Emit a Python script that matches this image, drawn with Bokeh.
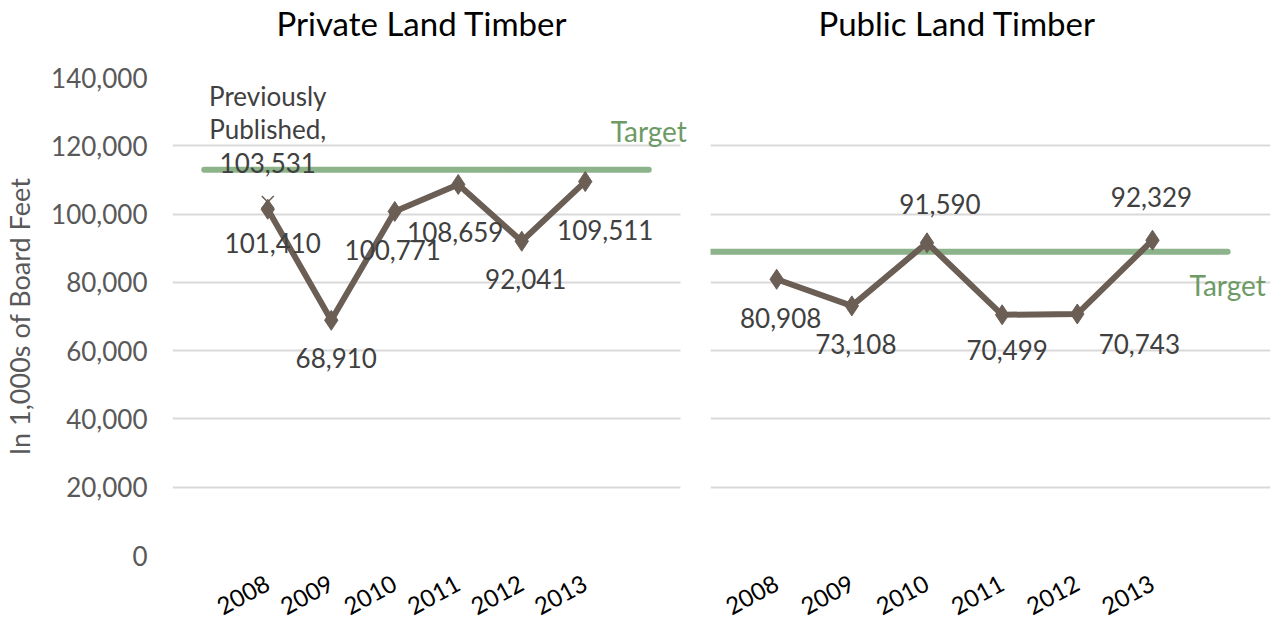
from bokeh.plotting import figure
from bokeh.models import ColumnDataSource, FixedTicker, Range1d, Label, NumeralTickFormatter, Title
from bokeh.layouts import row
from bokeh.embed import file_html
from bokeh.resources import INLINE
from bokeh.core.properties import value

# ---------------- data ----------------
years = ["2008", "2009", "2010", "2011", "2012", "2013"]
private_values = [101410, 68910, 100771, 108659, 92041, 109511]
public_values = [80908, 73108, 91590, 70499, 70743, 92329]
private_target = 113000
public_target = 89000
previously_published = 103531
previously_label = "Previously\nPublished,\n103,531"
y_ticks = [0, 20000, 40000, 60000, 80000, 100000, 120000, 140000]

# ---------------- styles ----------------
FONT = "Lato"
LINE_COLOR = "#6B5E55"
TARGET_COLOR = "#8DB38A"
TARGET_TEXT = "#6E9A66"
GRID_COLOR = "#D9D9D9"
TICK_TEXT = "#595959"
LABEL_TEXT = "#404040"

# data-label screen offsets (pixels; dy positive = down)
private_dx = [5, 5, -2, -3, 4, 20]
private_dy = [34, 38, 39, 47, 38, 48]
public_dx = [4, 4, 13, 5, 62, -1]
public_dy = [39, 38, -39, 35, 30, -43]


def make_panel(title, values, target, grid_start, grid_end, x_end, width, mb_left, mb_right,
               title_offset, show_y):
    xs = list(range(len(years)))
    p = figure(width=width, height=626, output_backend="svg", toolbar_location=None,
               x_range=Range1d(grid_start, x_end), y_range=Range1d(0, 140000),
               min_border_left=mb_left, min_border_right=mb_right,
               min_border_top=77, min_border_bottom=10)
    p.outline_line_color = None
    p.background_fill_color = "white"
    p.border_fill_color = "white"

    # spacer between frame and title, then the title itself (outermost)
    p.add_layout(Title(text=" ", text_font_size="10px", standoff=19), "above")
    p.add_layout(Title(text=title, text_font=FONT, text_font_size="33px",
                       text_font_style="normal", text_color="black", align="left",
                       offset=title_offset, vertical_align="top", standoff=2), "above")

    # x axis
    p.xaxis.ticker = FixedTicker(ticks=xs)
    p.xaxis.major_label_overrides = {i: y for i, y in enumerate(years)}
    p.xaxis.major_label_orientation = 0.5
    p.xaxis.major_label_text_font = FONT
    p.xaxis.major_label_text_font_size = "24px"
    p.xaxis.major_label_text_color = "black"
    p.xaxis.axis_line_color = None
    p.xaxis.major_tick_line_color = None
    p.xaxis.minor_tick_line_color = None
    p.xaxis.major_label_standoff = 20
    p.xgrid.grid_line_color = None

    # y axis / grid
    p.yaxis.ticker = FixedTicker(ticks=y_ticks)
    p.ygrid.ticker = FixedTicker(ticks=y_ticks)
    p.ygrid.cross_bounds = (grid_start, grid_end)
    p.ygrid.grid_line_color = GRID_COLOR
    p.ygrid.grid_line_width = 2
    p.yaxis.axis_line_color = None
    p.yaxis.major_tick_line_color = None
    p.yaxis.minor_tick_line_color = None
    if show_y:
        p.yaxis.formatter = NumeralTickFormatter(format="0,0")
        p.yaxis.major_label_text_font = FONT
        p.yaxis.major_label_text_font_size = "26px"
        p.yaxis.major_label_text_color = TICK_TEXT
        p.yaxis.major_label_standoff = 19
        p.yaxis.axis_label = "In 1,000s of Board Feet"
        p.yaxis.axis_label_text_font = FONT
        p.yaxis.axis_label_text_font_size = "27px"
        p.yaxis.axis_label_text_font_style = "normal"
        p.yaxis.axis_label_text_color = TICK_TEXT
        p.yaxis.axis_label_standoff = 12
    else:
        p.yaxis.visible = False

    # target line
    t_start = max(xs[0] - 1, grid_start)
    t_end = xs[-1] + 1
    p.line([t_start, t_end], [target, target], line_color=TARGET_COLOR, line_width=6,
           line_cap="round")

    # series
    src = ColumnDataSource(dict(x=xs, y=values, label=[f"{v:,}" for v in values]))
    p.line("x", "y", source=src, line_color=LINE_COLOR, line_width=6)
    p.scatter("x", "y", source=src, marker="diamond", size=20, fill_color=LINE_COLOR,
              line_color=LINE_COLOR)
    return p, src, xs


# left frame: pixels 172..698, grid lines 172..680 (8 slots of 63.5 px)
left, lsrc, lxs = make_panel("Private Land Timber", private_values, private_target,
                             -1.5, 6.5, 6.5 + 18 / 63.5, 698, 172, 0, 104, True)
right, rsrc, rxs = make_panel("Public Land Timber", public_values, public_target,
                              -0.88, 6.57, 6.57, 576, 12, 4, 108, False)

# data labels
lsrc.data["dx"] = private_dx
lsrc.data["dy"] = private_dy
left.text("x", "y", text="label", source=lsrc, x_offset="dx", y_offset="dy",
          text_font=value(FONT), text_font_size="26px", text_color=LABEL_TEXT,
          text_align="center", text_baseline="middle")
rsrc.data["dx"] = public_dx
rsrc.data["dy"] = public_dy
right.text("x", "y", text="label", source=rsrc, x_offset="dx", y_offset="dy",
           text_font=value(FONT), text_font_size="26px", text_color=LABEL_TEXT,
           text_align="center", text_baseline="middle")

# previously published marker and note
left.scatter([lxs[0]], [previously_published], marker="x", size=17, line_color=LINE_COLOR,
             line_width=1.5)
left.add_layout(Label(x=lxs[0], y=previously_published, text=previously_label,
                      x_offset=0, y_offset=23, text_font=FONT, text_font_size="26px",
                      text_color=LABEL_TEXT, text_align="center", text_baseline="bottom",
                      text_line_height=1.05))

# target labels
left.add_layout(Label(x=lxs[-1] + 1, y=private_target, text="Target", x_offset=0,
                      y_offset=22, text_font=FONT, text_font_size="28px",
                      text_color=TARGET_TEXT, text_align="center", text_baseline="bottom"))
right.add_layout(Label(x=rxs[-1] + 1, y=public_target, text="Target", x_offset=0,
                       y_offset=-33, text_font=FONT, text_font_size="28px",
                       text_color=TARGET_TEXT, text_align="center", text_baseline="middle"))

layout = row(left, right)
open("out.html", "w").write(file_html(layout, INLINE))
